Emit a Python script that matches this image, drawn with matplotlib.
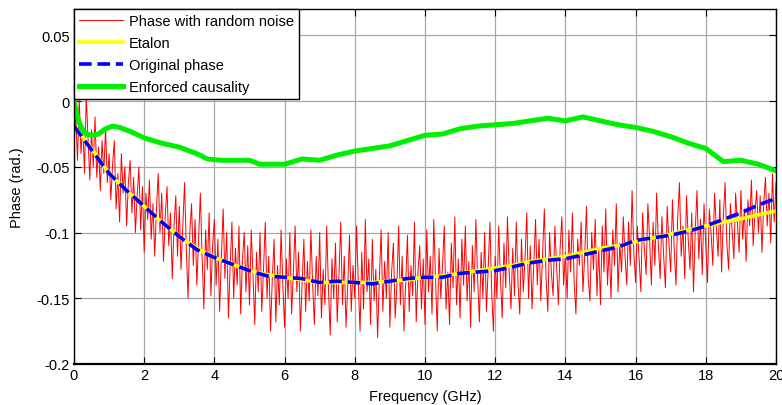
import numpy as np
import matplotlib
matplotlib.use("Agg")
import matplotlib.pyplot as plt

plt.rcParams['font.family'] = ['Liberation Sans', 'DejaVu Sans']
plt.rcParams['font.size'] = 10.5

# Smooth reference curves, sampled every 0.5 GHz
freqSmooth = [0.0, 0.5, 1.0, 1.5, 2.0, 2.5, 3.0, 3.5, 4.0, 4.5, 5.0, 5.5, 6.0, 6.5, 7.0,
              7.5, 8.0, 8.5, 9.0, 9.5, 10.0, 10.5, 11.0, 11.5, 12.0, 12.5, 13.0, 13.5,
              14.0, 14.5, 15.0, 15.5, 16.0, 16.5, 17.0, 17.5, 18.0, 18.5, 19.0, 19.5, 20.0]
etalon = [-0.019, -0.036, -0.055, -0.068, -0.080, -0.092, -0.103, -0.112, -0.119, -0.124,
          -0.129, -0.132, -0.134, -0.136, -0.138, -0.138, -0.138, -0.138, -0.137, -0.136,
          -0.134, -0.133, -0.131, -0.129, -0.127, -0.125, -0.122, -0.120, -0.118, -0.115,
          -0.112, -0.110, -0.107, -0.104, -0.101, -0.098, -0.095, -0.092, -0.0895, -0.0865,
          -0.0835]
originalPhase = [-0.019, -0.037, -0.055, -0.068, -0.080, -0.092, -0.103, -0.113, -0.119,
                 -0.124, -0.129, -0.133, -0.134, -0.135, -0.138, -0.137, -0.138, -0.139,
                 -0.137, -0.135, -0.134, -0.134, -0.131, -0.130, -0.129, -0.126, -0.123,
                 -0.121, -0.120, -0.117, -0.114, -0.111, -0.106, -0.104, -0.102, -0.099,
                 -0.095, -0.090, -0.085, -0.079, -0.074]

freqCausal = [0.0, 0.1, 0.2, 0.35, 0.5, 0.7, 0.9, 1.1, 1.3, 1.6, 2.0, 2.5, 3.0, 3.5, 3.8,
              4.2, 5.0, 5.3, 6.0, 6.5, 7.0, 7.5, 8.0, 8.5, 9.0, 9.5, 10.0, 10.5, 11.0, 11.5,
              12.0, 12.5, 13.0, 13.5, 14.0, 14.5, 15.0, 15.5, 16.0, 16.5, 17.0, 17.5, 18.0,
              18.5, 19.0, 19.5, 20.0]
enforcedCausality = [0.000, -0.012, -0.020, -0.025, -0.026, -0.025, -0.021, -0.019, -0.020,
                     -0.023, -0.028, -0.032, -0.035, -0.040, -0.044, -0.045, -0.045, -0.048,
                     -0.048, -0.044, -0.045, -0.041, -0.038, -0.036, -0.034, -0.030, -0.026,
                     -0.025, -0.021, -0.019, -0.018, -0.017, -0.015, -0.013, -0.015, -0.012,
                     -0.015, -0.018, -0.020, -0.023, -0.027, -0.032, -0.036, -0.046, -0.045,
                     -0.048, -0.053]

# Noisy phase, one value every 0.05 GHz (20 per GHz, rows are 1 GHz each)
noisyPhase = [
    -0.035, -0.010, -0.045, 0.002, -0.040, -0.018, -0.055, 0.004, -0.028, -0.060,
    -0.022, -0.050, -0.012, -0.058, -0.035, -0.068, -0.030, -0.055, -0.020, -0.062,
    -0.040, -0.075, -0.048, -0.030, -0.082, -0.055, -0.092, -0.040, -0.070, -0.050,
    -0.095, -0.062, -0.045, -0.085, -0.058, -0.100, -0.072, -0.050, -0.098, -0.065,
    -0.115, -0.070, -0.090, -0.060, -0.105, -0.078, -0.118, -0.082, -0.055, -0.100,
    -0.070, -0.122, -0.088, -0.065, -0.110, -0.085, -0.135, -0.095, -0.072, -0.118,
    -0.080, -0.128, -0.095, -0.062, -0.112, -0.150, -0.100, -0.078, -0.125, -0.090,
    -0.140, -0.105, -0.070, -0.118, -0.158, -0.098, -0.128, -0.085, -0.148, -0.110,
    -0.090, -0.140, -0.105, -0.160, -0.118, -0.082, -0.135, -0.100, -0.165, -0.125,
    -0.092, -0.150, -0.112, -0.140, -0.095, -0.162, -0.120, -0.100, -0.145, -0.110,
    -0.155, -0.098, -0.132, -0.170, -0.115, -0.145, -0.100, -0.160, -0.128, -0.092,
    -0.150, -0.118, -0.175, -0.135, -0.105, -0.168, -0.125, -0.155, -0.098, -0.140,
    -0.172, -0.120, -0.150, -0.100, -0.162, -0.130, -0.095, -0.145, -0.115, -0.175,
    -0.138, -0.105, -0.160, -0.122, -0.152, -0.098, -0.140, -0.170, -0.118, -0.148,
    -0.100, -0.165, -0.128, -0.155, -0.095, -0.142, -0.178, -0.120, -0.150, -0.108,
    -0.168, -0.132, -0.092, -0.155, -0.118, -0.172, -0.140, -0.102, -0.160, -0.125,
    -0.150, -0.095, -0.138, -0.175, -0.115, -0.158, -0.090, -0.145, -0.120, -0.170,
    -0.105, -0.152, -0.128, -0.180, -0.135, -0.098, -0.160, -0.122, -0.150, -0.100,
    -0.172, -0.130, -0.108, -0.165, -0.140, -0.095, -0.155, -0.118, -0.175, -0.138,
    -0.102, -0.160, -0.125, -0.148, -0.092, -0.168, -0.130, -0.110, -0.158, -0.120,
    -0.170, -0.098, -0.145, -0.118, -0.162, -0.090, -0.135, -0.175, -0.112, -0.150,
    -0.125, -0.095, -0.158, -0.130, -0.170, -0.108, -0.142, -0.088, -0.155, -0.120,
    -0.165, -0.105, -0.140, -0.095, -0.152, -0.122, -0.172, -0.110, -0.145, -0.090,
    -0.135, -0.168, -0.115, -0.150, -0.100, -0.160, -0.128, -0.092, -0.145, -0.175,
    -0.118, -0.150, -0.095, -0.135, -0.165, -0.108, -0.142, -0.088, -0.130, -0.158,
    -0.112, -0.148, -0.092, -0.138, -0.162, -0.105, -0.145, -0.120, -0.085, -0.150,
    -0.110, -0.158, -0.125, -0.090, -0.140, -0.105, -0.152, -0.118, -0.082, -0.135,
    -0.160, -0.100, -0.130, -0.148, -0.095, -0.125, -0.155, -0.112, -0.088, -0.140,
    -0.115, -0.150, -0.098, -0.130, -0.085, -0.138, -0.162, -0.105, -0.125, -0.092,
    -0.145, -0.118, -0.080, -0.135, -0.152, -0.100, -0.128, -0.090, -0.148, -0.112,
    -0.155, -0.095, -0.130, -0.082, -0.140, -0.110, -0.150, -0.098, -0.125, -0.078,
    -0.145, -0.108, -0.130, -0.088, -0.118, -0.140, -0.092, -0.125, -0.068, -0.115,
    -0.138, -0.095, -0.120, -0.145, -0.085, -0.112, -0.132, -0.078, -0.105, -0.140,
    -0.092, -0.125, -0.070, -0.110, -0.135, -0.088, -0.118, -0.142, -0.080, -0.108,
    -0.130, -0.075, -0.112, -0.140, -0.088, -0.062, -0.118, -0.095, -0.135, -0.072,
    -0.105, -0.128, -0.085, -0.145, -0.098, -0.068, -0.120, -0.090, -0.132, -0.078,
    -0.110, -0.138, -0.082, -0.100, -0.125, -0.070, -0.095, -0.118, -0.075, -0.130,
    -0.088, -0.062, -0.108, -0.128, -0.078, -0.098, -0.120, -0.070, -0.092, -0.115,
    -0.068, -0.105, -0.082, -0.122, -0.075, -0.095, -0.060, -0.110, -0.085, -0.068,
    -0.100, -0.072, -0.115, -0.078, -0.058, -0.095, -0.070, -0.108, -0.055, -0.092,
    -0.062]
freqNoisy = np.linspace(0, 20, len(noisyPhase))

xTicks = [0, 2, 4, 6, 8, 10, 12, 14, 16, 18, 20]
yTicks = [-0.2, -0.15, -0.1, -0.05, 0, 0.05]
yTickLabels = ['-0.2', '-0.15', '-0.1', '-0.05', '0', '0.05']

fig = plt.figure(figsize=(7.82, 4.06), dpi=100)
ax = fig.add_axes([0.0946, 0.101, 0.8977, 0.874])

ax.plot(freqNoisy, noisyPhase, color='red', lw=0.7, label='Phase with random noise')
ax.plot(freqSmooth, etalon, color='yellow', lw=2.6, label='Etalon')
ax.plot(freqSmooth, originalPhase, color='blue', lw=2.6, ls=(0, (3.5, 1.6)),
        label='Original phase')
ax.plot(freqCausal, enforcedCausality, color='#00ee00', lw=3.6, label='Enforced causality')

ax.set_xlim(0, 20)
ax.set_ylim(-0.2, 0.07)
ax.set_xticks(xTicks)
ax.set_yticks(yTicks)
ax.set_yticklabels(yTickLabels)
ax.grid(True, color='#a8a8a8', lw=0.9, ls='-')
ax.set_axisbelow(True)
ax.tick_params(direction='in', length=5, width=0.8, top=True, right=True, labelsize=10.5,
               pad=3)
for s in ax.spines.values():
    s.set_linewidth(1.0)
ax.spines['bottom'].set_linewidth(1.6)

ax.set_xlabel('Frequency (GHz)', labelpad=5)
ax.set_ylabel('Phase (rad.)', labelpad=9)

leg = ax.legend(loc='upper left', borderaxespad=0, fancybox=False, framealpha=1,
                edgecolor='black', handlelength=3.0, handletextpad=0.4,
                borderpad=0.35, labelspacing=0.55, fontsize=10.5)
leg.get_frame().set_linewidth(1.0)

fig.savefig('out.png', dpi=100)
